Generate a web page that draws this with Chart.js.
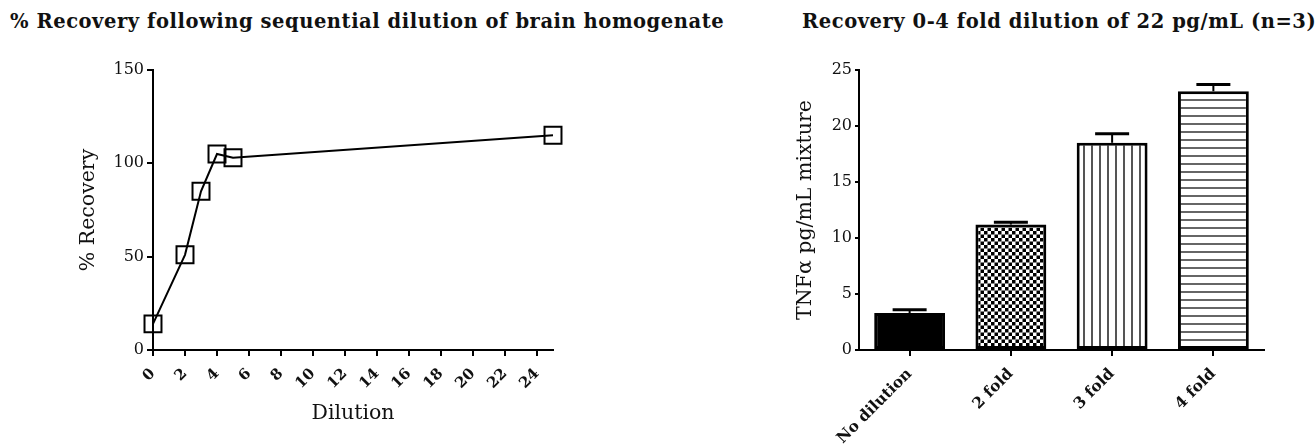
<!DOCTYPE html>
<html>
<head>
<meta charset="utf-8">
<script src="https://cdn.jsdelivr.net/npm/chart.js@4"></script>
<style>
  html, body { margin: 0; padding: 0; background: #fff; width: 1316px; height: 445px; overflow: hidden; position: relative; }
  .heading { position: absolute; top: 10px; font: bold 19.5px "DejaVu Serif", serif; line-height: 24px; letter-spacing: 0.55px; white-space: nowrap; color: #111; }
  #headLeft { left: 10px; }
  #headRight { left: 802px; }
  canvas { position: absolute; top: 0; }
</style>
</head>
<body>
<div class="heading" id="headLeft">% Recovery following sequential dilution of brain homogenate</div>
<div class="heading" id="headRight">Recovery 0-4 fold dilution of 22 pg/mL (n=3)</div>
<canvas id="recoveryChart" width="760" height="445" style="left:0"></canvas>
<canvas id="foldChart" width="556" height="445" style="left:760px"></canvas>
<script>
// Sequential dilution of brain homogenate
const dilutionFold = [0, 2, 3, 4, 5, 25];
const recoveryPct = [14, 51, 85, 105, 103, 115];
const dilutionTickStep = 2;
const dilutionMax = 25;
const recoveryTickStep = 50;
const recoveryMax = 150;

// 0-4 fold dilution of 22 pg/mL spike (mean and error, n=3)
const foldLabels = ['No dilution', '2 fold', '3 fold', '4 fold'];
const tnfMean = [3.3, 11.2, 18.5, 23.1];
const tnfError = [0.3, 0.2, 0.8, 0.6];
const tnfTickStep = 5;
const tnfMax = 25;

const SERIF = '"DejaVu Serif", serif';
Chart.defaults.color = '#111';
Chart.defaults.font.family = SERIF;

// Hatch fills for the bars
function makePattern(kind) {
  const c = document.createElement('canvas');
  const g = c.getContext('2d');
  if (kind === 'checker') {
    c.width = 7; c.height = 7;
    g.fillStyle = '#fff'; g.fillRect(0, 0, 7, 7);
    g.fillStyle = '#000'; g.fillRect(0, 0, 3.5, 3.5); g.fillRect(3.5, 3.5, 3.5, 3.5);
  } else if (kind === 'vertical') {
    c.width = 8; c.height = 8;
    g.fillStyle = '#fff'; g.fillRect(0, 0, 8, 8);
    g.fillStyle = '#555'; g.fillRect(3, 0, 2, 8);
  } else {
    c.width = 8; c.height = 8;
    g.fillStyle = '#fff'; g.fillRect(0, 0, 8, 8);
    g.fillStyle = '#666'; g.fillRect(0, 3, 8, 2);
  }
  return g.createPattern(c, 'repeat');
}

// Upper error bars drawn on top of each bar
const errorBars = {
  id: 'errorBars',
  afterDatasetsDraw(chart) {
    const meta = chart.getDatasetMeta(0);
    const y = chart.scales.y;
    const ctx = chart.ctx;
    ctx.save();
    ctx.strokeStyle = '#000';
    meta.data.forEach((bar, i) => {
      const top = y.getPixelForValue(tnfMean[i] + tnfError[i]);
      const base = y.getPixelForValue(tnfMean[i]);
      ctx.lineWidth = 2;
      ctx.beginPath(); ctx.moveTo(bar.x, base); ctx.lineTo(bar.x, top); ctx.stroke();
      ctx.lineWidth = 3;
      ctx.beginPath(); ctx.moveTo(bar.x - 17, top); ctx.lineTo(bar.x + 17, top); ctx.stroke();
    });
    ctx.restore();
  }
};

const axisCommon = {
  border: { color: '#000', width: 2 },
  grid: { display: true, drawOnChartArea: false, color: '#000', lineWidth: 2, tickLength: 6, tickColor: '#000' }
};

new Chart(document.getElementById('recoveryChart'), {
  type: 'line',
  data: {
    datasets: [{
      data: dilutionFold.map((d, i) => ({ x: d, y: recoveryPct[i] })),
      borderColor: '#000',
      borderWidth: 2,
      pointStyle: 'rect',
      pointRadius: 12,
      pointBorderWidth: 2,
      pointBorderColor: '#000',
      pointBackgroundColor: 'rgba(0,0,0,0)',
      tension: 0,
      clip: false
    }]
  },
  options: {
    responsive: false,
    animation: false,
    layout: { padding: { top: 70, left: 0, right: 207, bottom: 0 } },
    plugins: { legend: { display: false }, tooltip: { enabled: false } },
    scales: {
      x: {
        type: 'linear',
        min: 0, max: dilutionMax,
        ...axisCommon,
        ticks: { stepSize: dilutionTickStep, includeBounds: false, minRotation: 45, maxRotation: 45, padding: 9,
                 font: { size: 15, weight: 'bold' }, color: '#111' },
        title: { display: true, text: 'Dilution', font: { size: 20.5 }, padding: { top: 0, bottom: 19 } },
        afterFit(s) { s.height = 95; }
      },
      y: {
        min: 0, max: recoveryMax,
        ...axisCommon,
        ticks: { stepSize: recoveryTickStep, padding: 3, font: { size: 16 }, color: '#111' },
        title: { display: true, text: '% Recovery', font: { size: 20.5 }, padding: { top: 76, bottom: 0 } },
        afterFit(s) { s.width = 153; }
      }
    }
  }
});

new Chart(document.getElementById('foldChart'), {
  type: 'bar',
  data: {
    labels: foldLabels,
    datasets: [{
      data: tnfMean,
      backgroundColor: ['#000', makePattern('checker'), makePattern('vertical'), makePattern('horizontal')],
      borderColor: '#000',
      borderWidth: 3,
      borderSkipped: false,
      barPercentage: 0.7,
      categoryPercentage: 1
    }]
  },
  options: {
    responsive: false,
    animation: false,
    layout: { padding: { top: 70, left: 0, right: 52, bottom: 0 } },
    plugins: { legend: { display: false }, tooltip: { enabled: false } },
    scales: {
      x: {
        ...axisCommon,
        grid: { ...axisCommon.grid, offset: false },
        ticks: { minRotation: 45, maxRotation: 45, padding: 9, font: { size: 15.5, weight: 'bold' }, color: '#111' },
        afterFit(s) { s.height = 95; }
      },
      y: {
        min: 0, max: tnfMax,
        ...axisCommon,
        grid: { ...axisCommon.grid, tickLength: 4 },
        ticks: { stepSize: tnfTickStep, padding: 3, font: { size: 16 }, color: '#111' },
        title: { display: true, text: 'TNFα pg/mL mixture', font: { size: 20.5 }, padding: { top: 33, bottom: 0 } },
        afterFit(s) { s.width = 99; }
      }
    }
  },
  plugins: [errorBars]
});
</script>
</body>
</html>
